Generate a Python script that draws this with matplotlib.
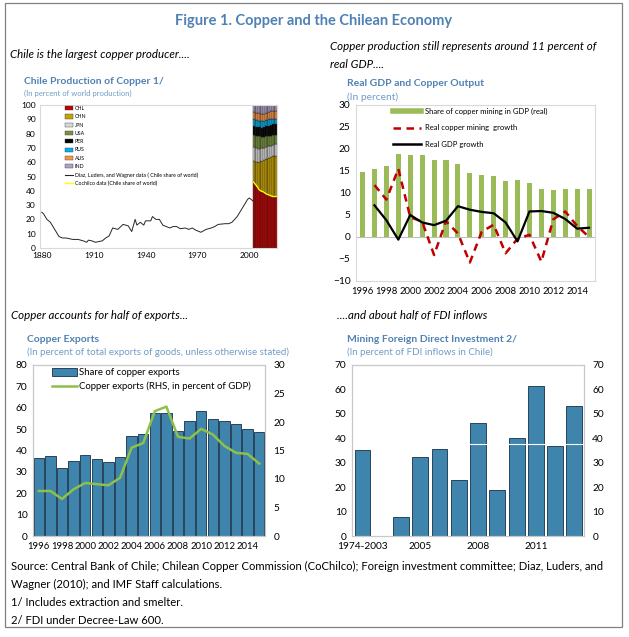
import numpy as np
import matplotlib
matplotlib.use('Agg')
import matplotlib.pyplot as plt
from matplotlib.patches import Patch, Rectangle
from matplotlib.lines import Line2D

plt.rcParams['font.family'] = ['Lato', 'DejaVu Sans']

W, H = 629, 637
TITLE_BLUE = '#4f81b4'
SUB_BLUE = '#6f9cc8'
SPINE = '#c8c8c8'
BAR_BLUE = '#3f84ad'
BAR_EDGE = '#15304a'

# --- Chile production of copper (share of world, %) ---
diaz_years = [1880, 1881, 1883, 1885, 1887, 1889, 1890, 1892, 1894, 1896, 1898, 1901,
              1904, 1906, 1907, 1909, 1911, 1913, 1915, 1917, 1919, 1921, 1924, 1927,
              1930, 1932, 1934, 1935, 1937, 1939, 1940, 1943, 1944, 1946, 1948, 1950,
              1952, 1954, 1956, 1958, 1960, 1963, 1965, 1967, 1969, 1972, 1975, 1978,
              1980, 1982, 1986, 1988, 1990, 1993, 1996, 1999, 2000, 2002]
diaz_share = [25, 24, 20, 18, 14, 10, 8, 7, 7, 6.5, 6, 6,
              5, 4, 5.5, 5, 4, 4.5, 5, 7, 8.5, 14, 13, 16.5,
              15.5, 11.5, 20, 16, 18, 16, 19, 19, 22, 20, 20, 16,
              15, 14, 15, 15, 13.5, 14, 13, 14, 12.5, 11, 13, 14,
              15, 16.5, 17, 17, 18, 22, 28, 34, 35, 33]

prod_years = list(range(2002, 2016))
chl = [45.5, 44, 42.5, 41, 40, 39.5, 39, 38, 37.5, 37, 36.5, 36, 36, 36]
chn = [15, 16, 17.5, 19, 20.5, 21.5, 22.5, 24, 25, 26, 27, 28, 28.5, 28]
jpn = [10, 10, 10, 9.5, 9.5, 9, 8.5, 8.5, 8.5, 8, 8, 8, 8, 8.5]
usa = [8.5, 8.5, 8, 8.5, 8, 7.5, 7.5, 7.5, 7, 7, 7, 7, 6.5, 6.5]
per = [6, 6, 6.5, 6.5, 6.5, 6.5, 7, 7, 7, 7.5, 7.5, 7.5, 7.5, 7.5]
rus = [5, 5, 5, 4.5, 4.5, 4.5, 4.5, 4.5, 4.5, 4.5, 4.5, 4, 4, 4]
aus = [5, 5, 5, 5.5, 5, 5, 5, 5, 5, 5, 5, 5, 5, 5]
ind = [5, 5.5, 5.5, 5.5, 6, 6.5, 6, 5.5, 5.5, 5, 4.5, 4.5, 4.5, 4.5]
cochilco = [46, 44.5, 43, 41, 40, 39.5, 39, 38, 37.5, 37, 36.5, 36, 36, 36]
countries = ['CHL', 'CHN', 'JPN', 'USA', 'PER', 'RUS', 'AUS', 'IND']
country_colors = ['#c00000', '#c9a100', '#d9d9d9', '#77933c', '#000000',
                  '#00b0f0', '#f79646', '#b3a2c7']

# --- Real GDP and copper output (%) ---
gdp_years = list(range(1996, 2016))
mining_share = [14.8, 15.4, 16.1, 18.8, 18.6, 18.6, 17.5, 17.5, 16.5, 14.6,
                14.0, 13.8, 12.7, 12.9, 12.3, 10.8, 10.6, 10.8, 11.0, 10.8]
growth_years = list(range(1997, 2016))
copper_growth = [11.8, 8.5, 15.5, 4.5, 3.5, -4.1, 3.6, 0.8, -5.8, 1.2,
                 2.8, -3.7, -0.4, 0.5, -5.6, 4.0, 5.8, 2.5, 0.0]
gdp_growth = [7.2, 3.8, -0.6, 5.0, 3.3, 2.7, 3.7, 7.0, 6.2, 5.7,
              5.4, 3.3, -1.0, 5.8, 5.9, 5.5, 4.1, 1.9, 2.1]

# --- Copper exports ---
exp_years = list(range(1996, 2016))
exp_share = [36.4, 37.3, 32.0, 35.2, 38.1, 35.9, 34.7, 36.9, 46.7, 47.7,
             57.5, 57.5, 49.2, 53.6, 58.3, 54.8, 54.0, 52.3, 50.0, 48.8]
exp_gdp = [7.9, 7.9, 6.5, 8.2, 9.3, 9.1, 8.9, 10.2, 15.5, 16.3,
           21.9, 22.7, 17.4, 17.1, 18.8, 17.8, 15.8, 14.6, 14.4, 12.7]

# --- Mining FDI (% of FDI inflows) ---
fdi_labels = ['1974-2003', '', '2004', '2005', '2006', '2007', '2008', '2009',
              '2010', '2011', '2012', '2013']
fdi_share = [35.2, np.nan, 7.6, 32.2, 35.5, 22.8, 46.1, 19.0, 40.0, 61.5, 37.0, 53.2]
fdi_ref = 37.5


def rect(l, t, r, b):
    return [l / W, 1 - b / H, (r - l) / W, (b - t) / H]


def ftext(x, y, s, **kw):
    fig.text(x / W, 1 - y / H, s, va='center', **kw)


def frame(ax, col=SPINE):
    for sp in ax.spines.values():
        sp.set_color(col)
        sp.set_linewidth(0.8)


TICK = 7.3
XTICK = 6.8
SUB_IT = 8.3

fig = plt.figure(figsize=(W / 100, H / 100), dpi=100)
fig.patches.append(Rectangle((5 / W, 1 - 627 / H), 617 / W, 624 / H, fill=False,
                             ec='#808080', lw=0.9, transform=fig.transFigure))

ftext(314, 21, 'Figure 1. Copper and the Chilean Economy', ha='center',
      fontsize=10.5, fontweight='bold', color=TITLE_BLUE)
ftext(10, 55, 'Chile is the largest copper producer....', fontsize=SUB_IT, style='italic')
ftext(330, 47, 'Copper production still represents around 11 percent of', fontsize=SUB_IT,
      style='italic')
ftext(330, 64, 'real GDP....', fontsize=SUB_IT, style='italic')
ftext(11, 316, 'Copper accounts for half of exports...', fontsize=SUB_IT, style='italic')
ftext(337, 316, '....and about half of FDI inflows', fontsize=SUB_IT, style='italic')

# panel 1
ftext(24, 82, 'Chile Production of Copper 1/', fontsize=7.5, fontweight='bold', color=TITLE_BLUE)
ftext(24, 93, '(In percent of world production)', fontsize=5.5, color=SUB_BLUE)
ax1 = fig.add_axes(rect(40, 105, 277, 248))
bottom = np.zeros(len(prod_years))
for vals, col in zip([chl, chn, jpn, usa, per, rus, aus, ind], country_colors):
    ax1.bar(prod_years, vals, width=1, align='edge', bottom=bottom, color=col,
            edgecolor='#202020', lw=0.3)
    bottom += np.array(vals)
ax1.plot(diaz_years, diaz_share, color='#262626', lw=0.7)
ax1.plot(np.array(prod_years) + 0.5, cochilco, color='#ffff00', lw=1.0)
ax1.set_xlim(1879, 2016)
ax1.set_ylim(0, 100)
ax1.set_yticks(range(0, 101, 10))
ax1.set_xticks([1880, 1910, 1940, 1970, 2000])
ax1.tick_params(labelsize=6.0, length=0, pad=3)
frame(ax1, '#d9d9d9')
h1 = [Patch(facecolor=c, edgecolor='#404040', lw=0.3) for c in country_colors]
h1 += [Line2D([], [], color='#262626', lw=0.8), Line2D([], [], color='#ffff00', lw=1.0)]
l1 = countries + ['Diaz, Luders, and Wagner data ( Chile share of world)',
                  'Cochilco data (Chile share of world)']
ax1.legend(h1, l1, loc='upper left', bbox_to_anchor=(0.1, 1.0), frameon=False,
           fontsize=3.8, handlelength=1.6, handleheight=0.8, handletextpad=0.3,
           labelspacing=0.62, borderpad=0.2, borderaxespad=0)

# panel 2
ftext(347, 84, 'Real GDP and Copper Output', fontsize=7.5, fontweight='bold', color=TITLE_BLUE)
ftext(347, 97, '(In percent)', fontsize=7.4, color=SUB_BLUE)
ax2 = fig.add_axes(rect(356, 105, 595, 281))
ax2.bar(gdp_years, mining_share, width=0.42, color='#9bbb59', zorder=2)
ax2.axhline(0, color='#bfbfbf', lw=0.8, zorder=1)
ax2.plot(growth_years, copper_growth, color='#c00000', lw=1.8, ls=(0, (3, 2.2)), zorder=3)
ax2.plot(growth_years, gdp_growth, color='black', lw=1.6, zorder=4)
ax2.set_xlim(1995.45, 2015.5)
ax2.set_ylim(-10, 30)
ax2.set_yticks(range(-10, 31, 5))
ax2.set_xticks(range(1996, 2015, 2))
ax2.tick_params(labelsize=TICK, length=0, pad=4)
ax2.tick_params(axis='x', labelsize=XTICK)
frame(ax2, '#d9d9d9')
h2 = [Line2D([], [], color='#9bbb59', lw=4),
      Line2D([], [], color='#c00000', lw=1.8, ls=(0, (3, 2.2))),
      Line2D([], [], color='black', lw=1.8)]
l2 = ['Share of copper mining in GDP (real)', 'Real copper mining  growth', 'Real GDP growth']
ax2.legend(h2, l2, loc='upper left', bbox_to_anchor=(0.14, 1.0), frameon=False,
           fontsize=5.5, handlelength=3.7, handletextpad=0.6, labelspacing=1.2,
           borderpad=0.4, borderaxespad=0)

# panel 3
ftext(27, 339, 'Copper Exports', fontsize=7.5, fontweight='bold', color=TITLE_BLUE)
ftext(27, 352, '(In percent of total exports of goods, unless otherwise stated)',
      fontsize=7.0, color=SUB_BLUE)
ax3 = fig.add_axes(rect(33, 365, 265, 536))
ax3.bar(exp_years, exp_share, width=0.88, color=BAR_BLUE, edgecolor=BAR_EDGE, lw=0.6)
ax3.set_xlim(1995.5, 2015.5)
ax3.set_ylim(0, 80)
ax3.set_xticks(range(1996, 2015, 2))
ax3.tick_params(labelsize=TICK, length=0, pad=4)
ax3.tick_params(axis='x', labelsize=XTICK)
ax3b = ax3.twinx()
ax3b.plot(exp_years, exp_gdp, color='#8fc04a', lw=1.8)
ax3b.set_ylim(0, 30)
ax3b.tick_params(labelsize=TICK, length=0, pad=6)
frame(ax3)
frame(ax3b)
h3 = [Patch(facecolor=BAR_BLUE, edgecolor=BAR_EDGE, lw=0.6),
      Line2D([], [], color='#8fc04a', lw=1.8)]
l3 = ['Share of copper exports', 'Copper exports (RHS, in percent of GDP)']
ax3b.legend(h3, l3, loc='upper left', bbox_to_anchor=(0.07, 1.0), frameon=False,
            fontsize=6.9, handlelength=2.6, handleheight=0.9, handletextpad=0.2,
            labelspacing=0.5, borderpad=0.3, borderaxespad=0)

# panel 4
ftext(347, 339, 'Mining Foreign Direct Investment 2/', fontsize=7.5, fontweight='bold',
      color=TITLE_BLUE)
ftext(347, 352, '(In percent of FDI inflows in Chile)', fontsize=7.0, color=SUB_BLUE)
ax4 = fig.add_axes(rect(352, 365, 584, 536))
xpos = np.arange(len(fdi_labels))
ax4.bar(xpos, fdi_share, width=0.82, color=BAR_BLUE, edgecolor=BAR_EDGE, lw=0.6)
ax4.axhline(fdi_ref, color='white', lw=0.8)
ax4.set_xlim(-0.55, len(fdi_labels) - 0.5)
ax4.set_ylim(0, 70)
ax4.set_xticks(xpos[::3])
ax4.set_xticklabels(fdi_labels[::3])
ax4.tick_params(labelsize=TICK, length=0, pad=4)
ax4b = ax4.twinx()
ax4b.set_ylim(0, 70)
ax4b.tick_params(labelsize=TICK, length=0, pad=6)
frame(ax4)
frame(ax4b)

# footnotes
notes = ['Source: Central Bank of Chile; Chilean Copper Commission (CoChilco); Foreign investment committee; Diaz, Luders, and',
         'Wagner (2010); and IMF Staff calculations.',
         '1/ Includes extraction and smelter.',
         '2/ FDI under Decree-Law 600.']
for i, s in enumerate(notes):
    ftext(11, 566 + 18 * i, s, fontsize=8.1)

fig.savefig('out.png', dpi=100)
